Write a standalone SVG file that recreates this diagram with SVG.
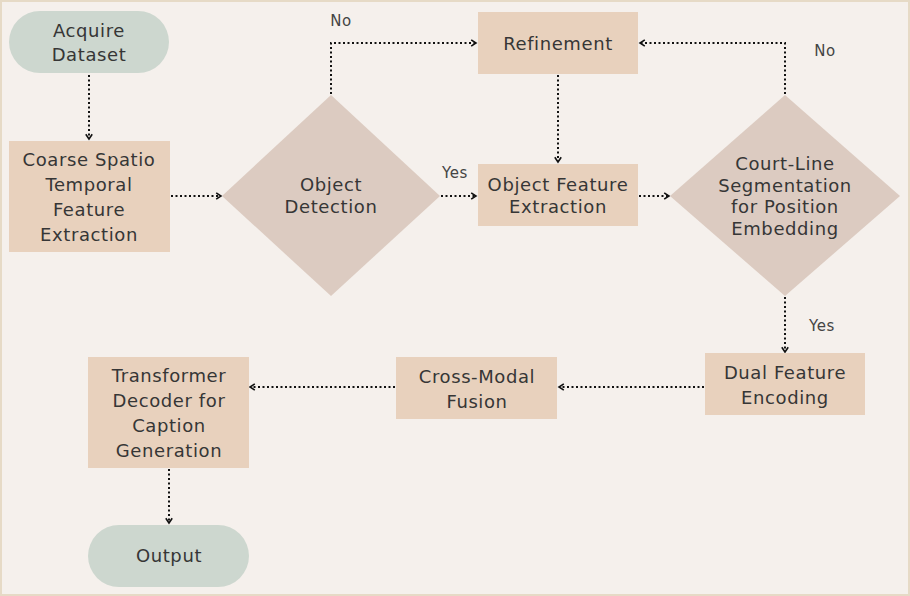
<svg xmlns="http://www.w3.org/2000/svg" width="910" height="596" viewBox="0 0 910 596">
<defs>
<style>
.bg{fill:#f5f0ec}
.pill{fill:#cdd7cf}
.box{fill:#e8d1bd}
.dia{fill:#dccbc1}
.t{font-family:"DejaVu Sans","Liberation Sans",sans-serif;font-size:18px;letter-spacing:0.6px;fill:#363636;text-anchor:middle}
.lbl{font-family:"DejaVu Sans","Liberation Sans",sans-serif;font-size:15px;letter-spacing:0.6px;fill:#444;text-anchor:middle}
.c{fill:none;stroke:#111;stroke-width:2;stroke-dasharray:2 2.5}
</style>
<marker id="ar" viewBox="0 0 10 10" refX="8" refY="5" markerWidth="8" markerHeight="8" markerUnits="userSpaceOnUse" orient="auto">
<path d="M2,1 L8,5 L2,9" fill="none" stroke="#111" stroke-width="2"/>
</marker>
</defs>
<rect class="bg" x="0" y="0" width="910" height="596"/>
<rect x="1" y="1" width="908" height="594" fill="none" stroke="#e6dac6" stroke-width="2"/>

<g id="connectors">
<path class="c" d="M89,75 V139" marker-end="url(#ar)"/>
<path class="c" d="M171,196 H221" marker-end="url(#ar)"/>
<path class="c" d="M331,94 V43 H476" marker-end="url(#ar)"/>
<path class="c" d="M441,196 H476" marker-end="url(#ar)"/>
<path class="c" d="M558,75 V162" marker-end="url(#ar)"/>
<path class="c" d="M639,196 H669" marker-end="url(#ar)"/>
<path class="c" d="M785,94 V43 H640" marker-end="url(#ar)"/>
<path class="c" d="M785,297 V352" marker-end="url(#ar)"/>
<path class="c" d="M704,387 H559" marker-end="url(#ar)"/>
<path class="c" d="M395,387 H250" marker-end="url(#ar)"/>
<path class="c" d="M169,469 V523" marker-end="url(#ar)"/>
<text class="lbl" x="341" y="26">No</text>
<text class="lbl" x="455" y="178">Yes</text>
<text class="lbl" x="825" y="56">No</text>
<text class="lbl" x="822" y="331">Yes</text>
</g>

<g id="acquire">
<rect class="pill" x="9" y="11" width="160" height="62" rx="31"/>
<text class="t" x="89" y="37">Acquire</text>
<text class="t" x="89" y="61">Dataset</text>
</g>
<g id="coarse">
<rect class="box" x="9" y="141" width="161" height="111"/>
<text class="t" x="89" y="166">Coarse Spatio</text>
<text class="t" x="89" y="191">Temporal</text>
<text class="t" x="89" y="216">Feature</text>
<text class="t" x="89" y="241">Extraction</text>
</g>
<g id="objdet">
<polygon class="dia" points="331,95 440,196 331,296 222,196"/>
<text class="t" x="331" y="191">Object</text>
<text class="t" x="331" y="213">Detection</text>
</g>
<g id="refinement">
<rect class="box" x="478" y="12" width="160" height="62"/>
<text class="t" x="558" y="50">Refinement</text>
</g>
<g id="ofe">
<rect class="box" x="478" y="164" width="160" height="62"/>
<text class="t" x="558" y="191">Object Feature</text>
<text class="t" x="558" y="213">Extraction</text>
</g>
<g id="courtline">
<polygon class="dia" points="785,95 900,196 785,296 670,196"/>
<text class="t" x="785" y="170">Court-Line</text>
<text class="t" x="785" y="192">Segmentation</text>
<text class="t" x="785" y="213">for Position</text>
<text class="t" x="785" y="235">Embedding</text>
</g>
<g id="dual">
<rect class="box" x="705" y="353" width="160" height="62"/>
<text class="t" x="785" y="379">Dual Feature</text>
<text class="t" x="785" y="404">Encoding</text>
</g>
<g id="crossmodal">
<rect class="box" x="396" y="357" width="161" height="62"/>
<text class="t" x="477" y="383">Cross-Modal</text>
<text class="t" x="477" y="408">Fusion</text>
</g>
<g id="transformer">
<rect class="box" x="88" y="357" width="161" height="111"/>
<text class="t" x="169" y="382">Transformer</text>
<text class="t" x="169" y="407">Decoder for</text>
<text class="t" x="169" y="432">Caption</text>
<text class="t" x="169" y="457">Generation</text>
</g>
<g id="output">
<rect class="pill" x="88" y="525" width="161" height="62" rx="31"/>
<text class="t" x="169" y="562">Output</text>
</g>
</svg>
